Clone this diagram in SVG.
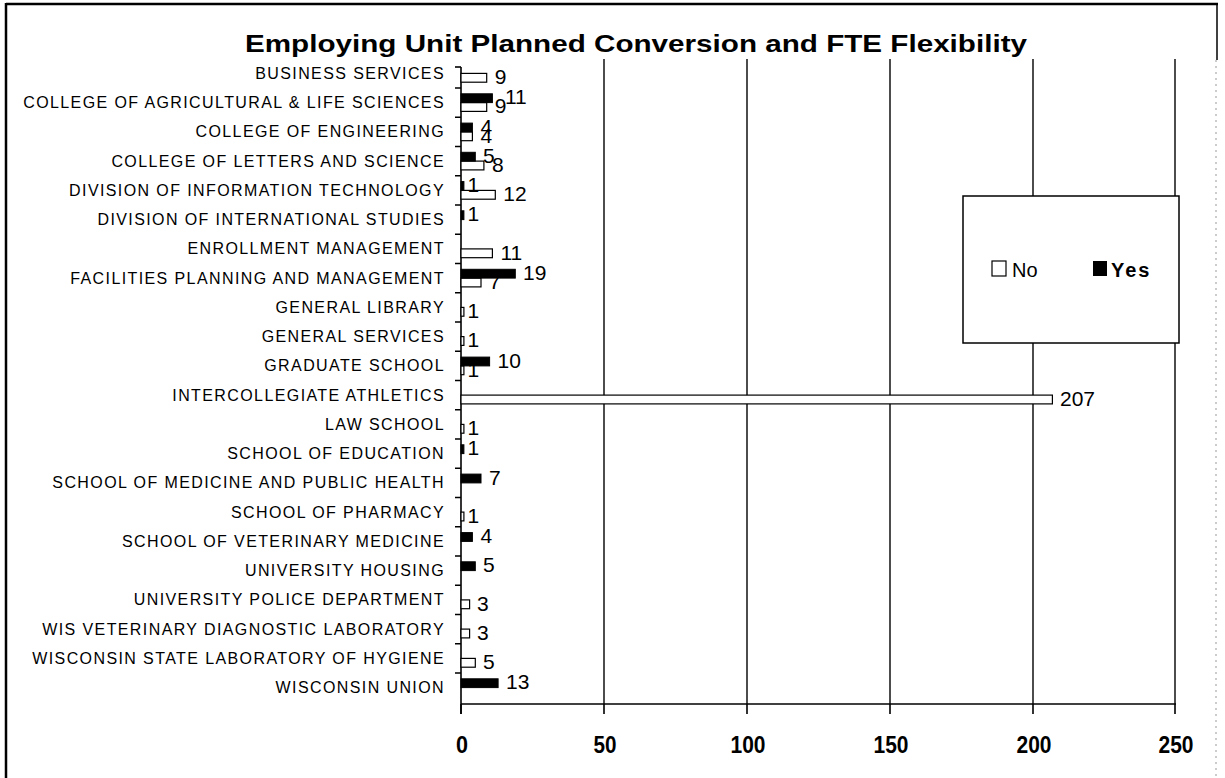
<svg xmlns="http://www.w3.org/2000/svg" width="1225" height="778" viewBox="0 0 1225 778">
<style>
.cat{font-family:"Liberation Sans",Arial,sans-serif;font-size:16px;letter-spacing:1.4px;fill:#000;text-anchor:end}
.val{font-family:"Liberation Sans",Arial,sans-serif;font-size:21px;fill:#000}
.leg{font-family:"Liberation Sans",Arial,sans-serif;font-size:20px;fill:#000}
.tick{font-family:"Liberation Sans",Arial,sans-serif;font-size:23px;font-weight:bold;fill:#000;text-anchor:middle}
.title{font-family:"Liberation Sans",Arial,sans-serif;font-size:24px;font-weight:bold;fill:#000}
.grid{stroke:#000;stroke-width:1.4;fill:none}
.ax{stroke:#000;stroke-width:1.6;fill:none}
.no{fill:#fff;stroke:#000;stroke-width:1.2}
.yes{fill:#000;stroke:#000;stroke-width:1}
</style>
<rect x="0" y="0" width="1225" height="778" fill="#fff"/>
<g id="frame">
<line x1="6" y1="4" x2="1218" y2="4" stroke="#000" stroke-width="2.5"/>
<line x1="6" y1="3" x2="6" y2="778" stroke="#000" stroke-width="2.5"/>
<line x1="1217" y1="4" x2="1217" y2="60" stroke="#000" stroke-width="1.5"/>
<line x1="1216" y1="60" x2="1216" y2="778" stroke="#999" stroke-width="1" stroke-dasharray="2 4"/>
</g>
<g id="title"><text class="title" x="245" y="52" textLength="782" lengthAdjust="spacingAndGlyphs">Employing Unit Planned Conversion and FTE Flexibility</text></g>
<g id="gridlines">
<line class="grid" x1="604" y1="59" x2="604" y2="704"/>
<line class="grid" x1="747" y1="59" x2="747" y2="704"/>
<line class="grid" x1="890" y1="59" x2="890" y2="704"/>
<line class="grid" x1="1033" y1="59" x2="1033" y2="704"/>
<line class="grid" x1="1175" y1="59" x2="1175" y2="704"/>
</g>
<g id="axes">
<line class="ax" x1="461" y1="67" x2="461" y2="714"/>
<line class="ax" x1="455" y1="67" x2="461" y2="67"/>
<path class="ax" d="M455 88H461M455 117.25H461M455 146.5H461M455 175.75H461M455 205H461M455 234.25H461M455 263.5H461M455 292.75H461M455 322H461M455 351.25H461M455 380.5H461M455 409.75H461M455 439H461M455 468.25H461M455 497.5H461M455 526.75H461M455 556H461M455 585.25H461M455 614.5H461M455 643.75H461M455 673H461"/>
<line class="ax" x1="461" y1="704" x2="1176" y2="704"/>
<path class="ax" d="M461 704V714M604 704V714M747 704V714M890 704V714M1033 704V714M1175 704V714"/>
<text class="tick" x="462" y="753" textLength="12" lengthAdjust="spacingAndGlyphs">0</text>
<text class="tick" x="605" y="753" textLength="23" lengthAdjust="spacingAndGlyphs">50</text>
<text class="tick" x="748" y="753" textLength="35" lengthAdjust="spacingAndGlyphs">100</text>
<text class="tick" x="891" y="753" textLength="35" lengthAdjust="spacingAndGlyphs">150</text>
<text class="tick" x="1034" y="753" textLength="35" lengthAdjust="spacingAndGlyphs">200</text>
<text class="tick" x="1176" y="753" textLength="35" lengthAdjust="spacingAndGlyphs">250</text>
</g>
<g id="categories">
<text class="cat" x="445" y="78.8">BUSINESS SERVICES</text>
<text class="cat" x="445" y="108">COLLEGE OF AGRICULTURAL &amp; LIFE SCIENCES</text>
<text class="cat" x="445" y="137.3">COLLEGE OF ENGINEERING</text>
<text class="cat" x="445" y="166.5">COLLEGE OF LETTERS AND SCIENCE</text>
<text class="cat" x="445" y="195.8">DIVISION OF INFORMATION TECHNOLOGY</text>
<text class="cat" x="445" y="225">DIVISION OF INTERNATIONAL STUDIES</text>
<text class="cat" x="445" y="254.3">ENROLLMENT MANAGEMENT</text>
<text class="cat" x="445" y="283.5">FACILITIES PLANNING AND MANAGEMENT</text>
<text class="cat" x="445" y="312.8">GENERAL LIBRARY</text>
<text class="cat" x="445" y="342">GENERAL SERVICES</text>
<text class="cat" x="445" y="371.3">GRADUATE SCHOOL</text>
<text class="cat" x="445" y="400.5">INTERCOLLEGIATE ATHLETICS</text>
<text class="cat" x="445" y="429.8">LAW SCHOOL</text>
<text class="cat" x="445" y="459">SCHOOL OF EDUCATION</text>
<text class="cat" x="445" y="488.3">SCHOOL OF MEDICINE AND PUBLIC HEALTH</text>
<text class="cat" x="445" y="517.5">SCHOOL OF PHARMACY</text>
<text class="cat" x="445" y="546.8">SCHOOL OF VETERINARY MEDICINE</text>
<text class="cat" x="445" y="576">UNIVERSITY HOUSING</text>
<text class="cat" x="445" y="605.3">UNIVERSITY POLICE DEPARTMENT</text>
<text class="cat" x="445" y="634.5">WIS VETERINARY DIAGNOSTIC LABORATORY</text>
<text class="cat" x="445" y="663.8">WISCONSIN STATE LABORATORY OF HYGIENE</text>
<text class="cat" x="445" y="693">WISCONSIN UNION</text>
</g>
<g id="series-no">
<rect class="no" x="461" y="73.4" width="25.7" height="8.8"/>
<rect class="no" x="461" y="102.6" width="25.7" height="8.8"/>
<rect class="no" x="461" y="131.9" width="11.4" height="8.8"/>
<rect class="no" x="461" y="161.1" width="22.9" height="8.8"/>
<rect class="no" x="461" y="190.4" width="34.3" height="8.8"/>
<rect class="no" x="461" y="248.9" width="31.4" height="8.8"/>
<rect class="no" x="461" y="278.1" width="20" height="8.8"/>
<rect class="no" x="461" y="307.4" width="2.9" height="8.8"/>
<rect class="no" x="461" y="336.6" width="2.9" height="8.8"/>
<rect class="no" x="461" y="365.9" width="2.9" height="8.8"/>
<rect class="no" x="461" y="395.1" width="591.4" height="8.8"/>
<rect class="no" x="461" y="424.4" width="2.9" height="8.8"/>
<rect class="no" x="461" y="512.1" width="2.9" height="8.8"/>
<rect class="no" x="461" y="599.9" width="8.6" height="8.8"/>
<rect class="no" x="461" y="629.1" width="8.6" height="8.8"/>
<rect class="no" x="461" y="658.4" width="14.3" height="8.8"/>
<text class="val" x="494.7" y="84">9</text>
<text class="val" x="494.7" y="113.2">9</text>
<text class="val" x="480.4" y="142.5">4</text>
<text class="val" x="491.9" y="171.7">8</text>
<text class="val" x="503.3" y="201">12</text>
<text class="val" x="500.4" y="259.5">11</text>
<text class="val" x="489" y="288.7">7</text>
<text class="val" x="467.5" y="318">1</text>
<text class="val" x="467.5" y="347.2">1</text>
<text class="val" x="467.5" y="376.5">1</text>
<text class="val" x="1060" y="405.7">207</text>
<text class="val" x="467.5" y="435">1</text>
<text class="val" x="467.5" y="522.7">1</text>
<text class="val" x="477" y="610.5">3</text>
<text class="val" x="477" y="639.7">3</text>
<text class="val" x="483" y="669">5</text>
</g>
<g id="series-yes">
<rect class="yes" x="461" y="93.8" width="31.4" height="8.8"/>
<rect class="yes" x="461" y="123.1" width="11.4" height="8.8"/>
<rect class="yes" x="461" y="152.3" width="14.3" height="8.8"/>
<rect class="yes" x="461" y="181.6" width="2.9" height="8.8"/>
<rect class="yes" x="461" y="210.8" width="2.9" height="8.8"/>
<rect class="yes" x="461" y="269.3" width="54.3" height="8.8"/>
<rect class="yes" x="461" y="357.1" width="28.6" height="8.8"/>
<rect class="yes" x="461" y="444.8" width="2.9" height="8.8"/>
<rect class="yes" x="461" y="474.1" width="20" height="8.8"/>
<rect class="yes" x="461" y="532.6" width="11.4" height="8.8"/>
<rect class="yes" x="461" y="561.8" width="14.3" height="8.8"/>
<rect class="yes" x="461" y="678.8" width="37.1" height="8.8"/>
<text class="val" x="505" y="104.4">11</text>
<text class="val" x="480.4" y="133.7">4</text>
<text class="val" x="483" y="162.9">5</text>
<text class="val" x="467.5" y="192.2">1</text>
<text class="val" x="467.5" y="221.4">1</text>
<text class="val" x="523" y="279.9">19</text>
<text class="val" x="497.5" y="367.7">10</text>
<text class="val" x="467.5" y="455.4">1</text>
<text class="val" x="489" y="484.7">7</text>
<text class="val" x="480.4" y="543.2">4</text>
<text class="val" x="483" y="572.4">5</text>
<text class="val" x="506" y="689.4">13</text>
</g>
<g id="legend">
<rect x="963" y="196" width="216" height="147" fill="#fff" stroke="#000" stroke-width="1.5"/>
<rect x="992" y="261" width="14" height="15" fill="#fff" stroke="#000" stroke-width="1.2"/>
<text class="leg" x="1012" y="276.5">No</text>
<rect x="1093" y="261" width="14" height="15" fill="#000"/>
<text class="leg" x="1111" y="276.5" font-weight="bold" letter-spacing="2">Yes</text>
</g>
</svg>
